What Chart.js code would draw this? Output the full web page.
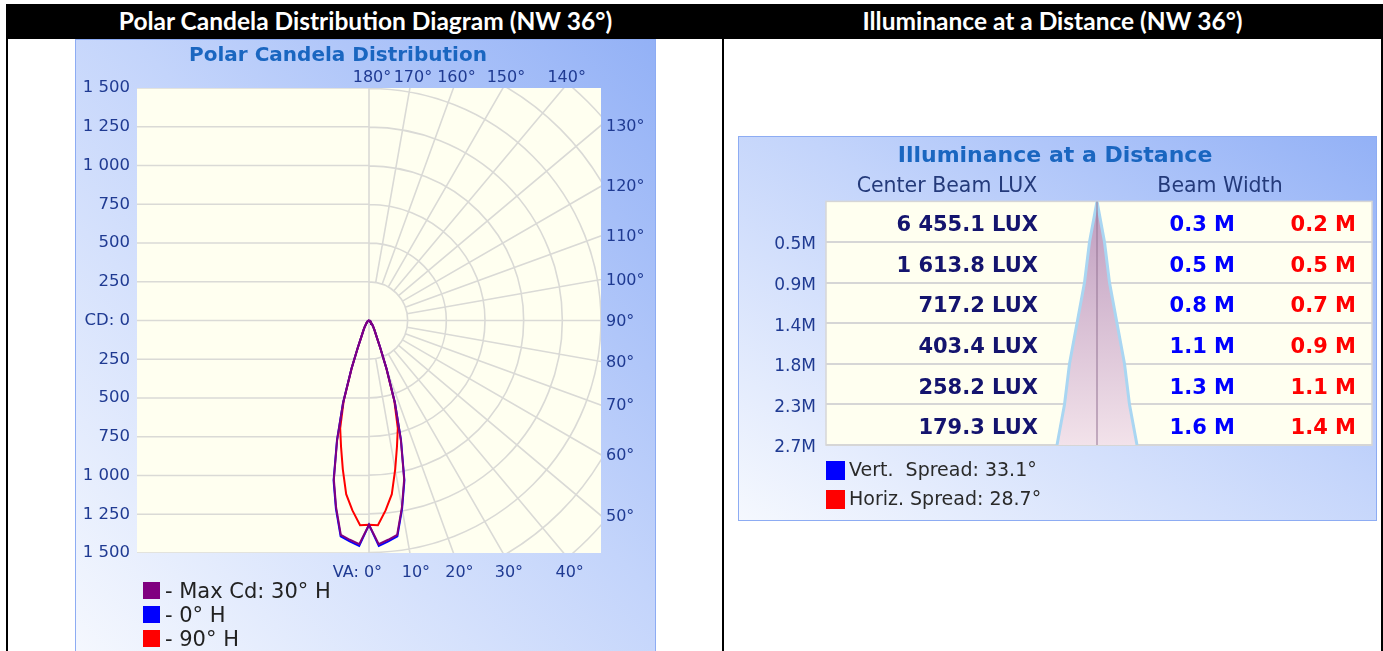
<!DOCTYPE html>
<html>
<head>
<meta charset="utf-8">
<script src="https://cdn.jsdelivr.net/npm/chart.js@4.4.1/dist/chart.umd.min.js"></script>
<style>
  body { margin: 0; width: 1383px; height: 651px; overflow: hidden; position: relative; background: #fff; }
  .bar { position: absolute; left: 6px; top: 4px; width: 1377px; height: 35px; background: #000; }
  .head { position: absolute; top: 6px; height: 35px; line-height: 35px; color: #fff; text-align: center;
          font: bold 24.5px Lato, "Liberation Sans", sans-serif; }
  .rule { position: absolute; top: 4px; width: 2px; height: 647px; background: #000; }
  .box { position: absolute; box-sizing: border-box; border: 1px solid #8dacf3;
         background: linear-gradient(to bottom left, #93b1f6 0%, #c3d4fb 45%, #f5f8fe 100%); }
  canvas { position: absolute; }
</style>
</head>
<body>
<div class="bar"></div>
<div class="head" style="left:8px;width:715px">Polar Candela Distribution Diagram (NW 36°)</div>
<div class="head" style="left:724px;width:657px">Illuminance at a Distance (NW 36°)</div>
<div class="rule" style="left:6px"></div>
<div class="rule" style="left:722px"></div>
<div class="rule" style="left:1381px"></div>
<div class="box" style="left:75px;top:39px;width:581px;height:620px"></div>
<div class="box" style="left:738px;top:136px;width:639px;height:385px"></div>
<canvas id="polar" width="580" height="612" style="left:75px;top:39px"></canvas>
<canvas id="lux" width="638" height="384" style="left:738px;top:136px"></canvas>
<script>
Chart.defaults.font.family = '"DejaVu Sans", sans-serif';
Chart.defaults.animation = false;

// ---- polar candela data (vertical angle in degrees, candela) ----
const vaAngles   = [0, 2.5, 5, 7.5, 10, 12.5, 15, 17.5, 20, 22.5, 25, 30, 35, 40, 45, 50, 60, 70, 80, 90];
const cdMax30H   = [1318, 1445, 1420, 1395, 1225, 1050, 795, 555, 330, 190, 120, 70, 45, 30, 20, 15, 10, 5, 2, 0];
const cd0H       = [1318, 1455, 1430, 1405, 1232, 1058, 800, 560, 332, 190, 120, 70, 45, 30, 20, 15, 10, 5, 2, 0];
const cd90H      = [1318, 1322, 1230, 1130, 975, 835, 720, 545, 325, 185, 118, 70, 45, 30, 20, 15, 10, 5, 2, 0];
const polarLabels = ['- Max Cd: 30° H', '- 0° H', '- 90° H'];
const polarColors = ['#800080', '#0000ff', '#ff0000'];

const ringValues  = [250, 500, 750, 1000, 1250, 1500, 1750, 2000];
const spokeAngles = [10, 20, 30, 40, 50, 60, 70, 80, 100, 110, 120, 130, 140, 150, 160, 170];
const bottomAngleTicks = [0, 10, 20, 30, 40];
const sideAngleTicks   = [50, 60, 70, 80, 90, 100, 110, 120, 130];
const topAngleTicks    = [140, 150, 160, 170, 180];

// ---- illuminance data ----
const distances   = [0.45, 0.9, 1.35, 1.8, 2.25, 2.7];
const distLabels  = ['0.5M', '0.9M', '1.4M', '1.8M', '2.3M', '2.7M'];
const centerLux   = [6455.1, 1613.8, 717.2, 403.4, 258.2, 179.3];
const vertWidth   = [0.3, 0.5, 0.8, 1.1, 1.3, 1.6];
const horizWidth  = [0.2, 0.5, 0.7, 0.9, 1.1, 1.4];
const spreadNames  = ['Vert.  Spread', 'Horiz. Spread'];
const spreadValues = [33.1, 28.7];
const spreadColors = ['#0000ff', '#ff0000'];

function spaced(v, d) {
  const s = v.toFixed(d).split('.');
  return s[0].replace(/\B(?=(\d{3})+(?!\d))/g, ' ') + (s[1] ? '.' + s[1] : '');
}

function toXY(deg, r) {
  const t = deg * Math.PI / 180;
  return { x: r * Math.sin(t), y: -r * Math.cos(t) };
}

// mirror the curve: left half then right half
function polarPoints(cd) {
  const pts = [];
  for (let i = vaAngles.length - 1; i >= 0; i--) pts.push(toXY(-vaAngles[i], cd[i]));
  for (let i = 1; i < vaAngles.length; i++) pts.push(toXY(vaAngles[i], cd[i]));
  return pts;
}

const navy = '#1f3a92';

const polarGrid = {
  id: 'polarGrid',
  beforeDraw(chart) {
    const { ctx, chartArea: a } = chart;
    ctx.save();
    ctx.fillStyle = '#fffff0';
    ctx.fillRect(a.left, a.top, a.width, a.height);
    ctx.restore();
  },
  beforeDatasetsDraw(chart) {
    const { ctx, chartArea: a, scales: { x, y } } = chart;
    const cx = x.getPixelForValue(0), cy = y.getPixelForValue(0);
    ctx.save();
    ctx.beginPath();
    ctx.rect(a.left, a.top, a.width, a.height);
    ctx.clip();
    ctx.strokeStyle = '#dadad6';
    ctx.lineWidth = 1.6;
    ctx.beginPath();
    // left half: plain horizontal lines
    y.ticks.forEach(t => {
      const py = y.getPixelForValue(t.value);
      ctx.moveTo(a.left, py);
      ctx.lineTo(cx, py);
    });
    ctx.moveTo(cx, a.top);
    ctx.lineTo(cx, a.bottom);
    ctx.moveTo(cx, cy);
    ctx.lineTo(a.right, cy);
    // right half: rings + spokes
    ringValues.forEach(r => {
      const rp = x.getPixelForValue(r) - cx;
      ctx.moveTo(cx, cy - rp);
      ctx.arc(cx, cy, rp, -Math.PI / 2, Math.PI / 2);
    });
    spokeAngles.forEach(deg => {
      const p0 = toXY(deg, ringValues[0]), p1 = toXY(deg, 3000);
      ctx.moveTo(x.getPixelForValue(p0.x), y.getPixelForValue(p0.y));
      ctx.lineTo(x.getPixelForValue(p1.x), y.getPixelForValue(p1.y));
    });
    ctx.stroke();
    ctx.restore();
  },
  afterDraw(chart) {
    const { ctx, chartArea: a, scales: { x, y } } = chart;
    const xMax = x.max, yMin = y.min, yMax = y.max;
    ctx.save();
    ctx.fillStyle = navy;
    ctx.font = '16px "DejaVu Sans"';
    ctx.textBaseline = 'middle';

    // bottom edge
    ctx.textAlign = 'center';
    bottomAngleTicks.forEach(deg => {
      const t = deg * Math.PI / 180;
      const px = x.getPixelForValue(-yMin * Math.tan(t)) + 6;
      const py = a.bottom + 20;
      if (deg === 0) {
        const w = ctx.measureText('0°').width;
        ctx.textAlign = 'right';
        ctx.fillText('VA: 0°', px - 2 + w / 2, py);
        ctx.textAlign = 'center';
      } else {
        ctx.fillText(deg + '°', px, py);
      }
    });
    // right edge
    ctx.textAlign = 'left';
    sideAngleTicks.forEach(deg => {
      const t = (deg - 90) * Math.PI / 180;
      const py = y.getPixelForValue(xMax * Math.tan(t)) + 1;
      ctx.fillText(deg + '°', a.right + 5, py);
    });
    // top edge
    ctx.textAlign = 'center';
    topAngleTicks.forEach(deg => {
      const t = (180 - deg) * Math.PI / 180;
      const px = x.getPixelForValue(yMax * Math.tan(t)) + 3;
      ctx.fillText(deg + '°', px, a.top - 10);
    });

    // legend
    ctx.font = '21px "DejaVu Sans"';
    ctx.textAlign = 'left';
    chart.data.datasets.forEach((ds, i) => {
      const top = a.bottom + 29 + i * 24;
      ctx.fillStyle = ds.borderColor;
      ctx.fillRect(a.left + 6, top, 17, 17);
      ctx.fillStyle = '#222';
      ctx.fillText(ds.label, a.left + 28, top + 11);
    });
    ctx.restore();
  }
};

new Chart(document.getElementById('polar'), {
  type: 'scatter',
  data: {
    datasets: [cdMax30H, cd0H, cd90H].map((cd, i) => ({
      label: polarLabels[i],
      data: polarPoints(cd),
      showLine: true,
      borderColor: polarColors[i],
      backgroundColor: polarColors[i],
      borderWidth: 2,
      pointRadius: 0,
      tension: 0
    }))
  },
  options: {
    responsive: false,
    devicePixelRatio: 1,
    layout: { autoPadding: false, padding: { left: 0, right: 54, top: 0, bottom: 98 } },
    plugins: {
      legend: { display: false },
      tooltip: { enabled: false },
      title: {
        display: true,
        text: 'Polar Candela Distribution',
        color: '#1a66c0',
        font: { size: 20, weight: 'bold' },
        padding: { top: 5, bottom: 20 }
      }
    },
    scales: {
      x: { type: 'linear', min: -1500, max: 1500, display: false },
      y: {
        type: 'linear', min: -1500, max: 1500,
        afterFit(scale) { scale.width = 62; },
        grid: { display: false, drawTicks: false },
        border: { display: false },
        ticks: {
          stepSize: 250,
          padding: 7,
          color: navy,
          font: { size: 16.5 },
          callback: v => v === 0 ? 'CD: 0' : spaced(Math.abs(v), 0)
        }
      }
    }
  },
  plugins: [polarGrid]
});

// ---- illuminance at a distance ----
const conePoints = [];
for (let i = distances.length - 1; i >= 0; i--) conePoints.push({ x: -vertWidth[i] / 2, y: distances[i] });
conePoints.push({ x: 0, y: 0 });
for (let i = 0; i < distances.length; i++) conePoints.push({ x: vertWidth[i] / 2, y: distances[i] });

const beamTable = {
  id: 'beamTable',
  beforeDraw(chart) {
    const { ctx, chartArea: a } = chart;
    ctx.save();
    ctx.fillStyle = '#fffff0';
    ctx.fillRect(a.left, a.top, a.width, a.height);
    ctx.strokeStyle = '#d6d6d6';
    ctx.lineWidth = 1.5;
    ctx.strokeRect(a.left, a.top, a.width, a.height);
    ctx.restore();
  },
  afterDraw(chart) {
    const { ctx, chartArea: a, scales: { y } } = chart;
    ctx.save();
    ctx.textBaseline = 'middle';
    // column headers
    ctx.font = '20.5px "DejaVu Sans"';
    ctx.fillStyle = '#243a7a';
    ctx.textAlign = 'center';
    ctx.fillText('Center Beam LUX', a.left + 121, a.top - 15);
    ctx.fillText('Beam Width', a.left + 394, a.top - 15);
    // rows
    ctx.textAlign = 'right';
    ctx.font = 'bold 21px "DejaVu Sans"';
    distances.forEach((d, i) => {
      const prev = i === 0 ? 0 : distances[i - 1];
      const py = y.getPixelForValue((prev + d) / 2) + 4;
      ctx.fillStyle = '#14146e';
      ctx.fillText(spaced(centerLux[i], 1) + ' LUX', a.left + 212, py);
      ctx.fillStyle = spreadColors[0];
      ctx.fillText(vertWidth[i].toFixed(1) + ' M', a.left + 409, py);
      ctx.fillStyle = spreadColors[1];
      ctx.fillText(horizWidth[i].toFixed(1) + ' M', a.left + 530, py);
    });
    // spread legend
    ctx.textAlign = 'left';
    ctx.font = '19px "DejaVu Sans"';
    spreadNames.forEach((n, i) => {
      const top = a.bottom + 16 + i * 29;
      ctx.fillStyle = spreadColors[i];
      ctx.fillRect(a.left, top, 19, 19);
      ctx.fillStyle = '#2a2a2a';
      ctx.fillText(n + ': ' + spreadValues[i].toFixed(1) + '°', a.left + 23, top + 10);
    });
    ctx.restore();
  }
};

new Chart(document.getElementById('lux'), {
  type: 'scatter',
  data: {
    datasets: [
      {
        data: [{ x: 0, y: 0 }, { x: 0, y: distances[distances.length - 1] }],
        showLine: true,
        borderColor: 'rgba(150, 120, 150, 0.45)',
        borderWidth: 1,
        pointRadius: 0
      },
      {
        data: conePoints,
        showLine: true,
        fill: 'shape',
        borderColor: '#a9d6f2',
        borderWidth: 3,
        pointRadius: 0,
        tension: 0,
        backgroundColor(c) {
          const a = c.chart.chartArea;
          if (!a) return '#d8c0d4';
          const g = c.chart.ctx.createLinearGradient(0, a.top, 0, a.bottom);
          g.addColorStop(0, '#bf9dbf');
          g.addColorStop(1, '#f2e2ea');
          return g;
        }
      }
    ]
  },
  options: {
    responsive: false,
    devicePixelRatio: 1,
    layout: { autoPadding: false, padding: { left: 0, right: 4, top: 0, bottom: 75 } },
    plugins: {
      legend: { display: false },
      tooltip: { enabled: false },
      title: {
        display: true,
        text: 'Illuminance at a Distance',
        color: '#1a66c0',
        font: { size: 22, weight: 'bold' },
        padding: { top: 7, bottom: 32 }
      }
    },
    scales: {
      x: { type: 'linear', min: -5.42, max: 5.5, display: false },
      y: {
        type: 'linear', min: 0, max: 2.7, reverse: true,
        afterFit(scale) { scale.width = 88; },
        afterBuildTicks(scale) { scale.ticks = distances.map(v => ({ value: v })); },
        grid: { color: '#d6d6d6', lineWidth: 2, drawTicks: false },
        border: { display: false },
        ticks: {
          padding: 10,
          labelOffset: 3,
          color: navy,
          font: { size: 17 },
          callback: (v, i) => distLabels[i]
        }
      }
    }
  },
  plugins: [beamTable]
});
</script>
</body>
</html>
